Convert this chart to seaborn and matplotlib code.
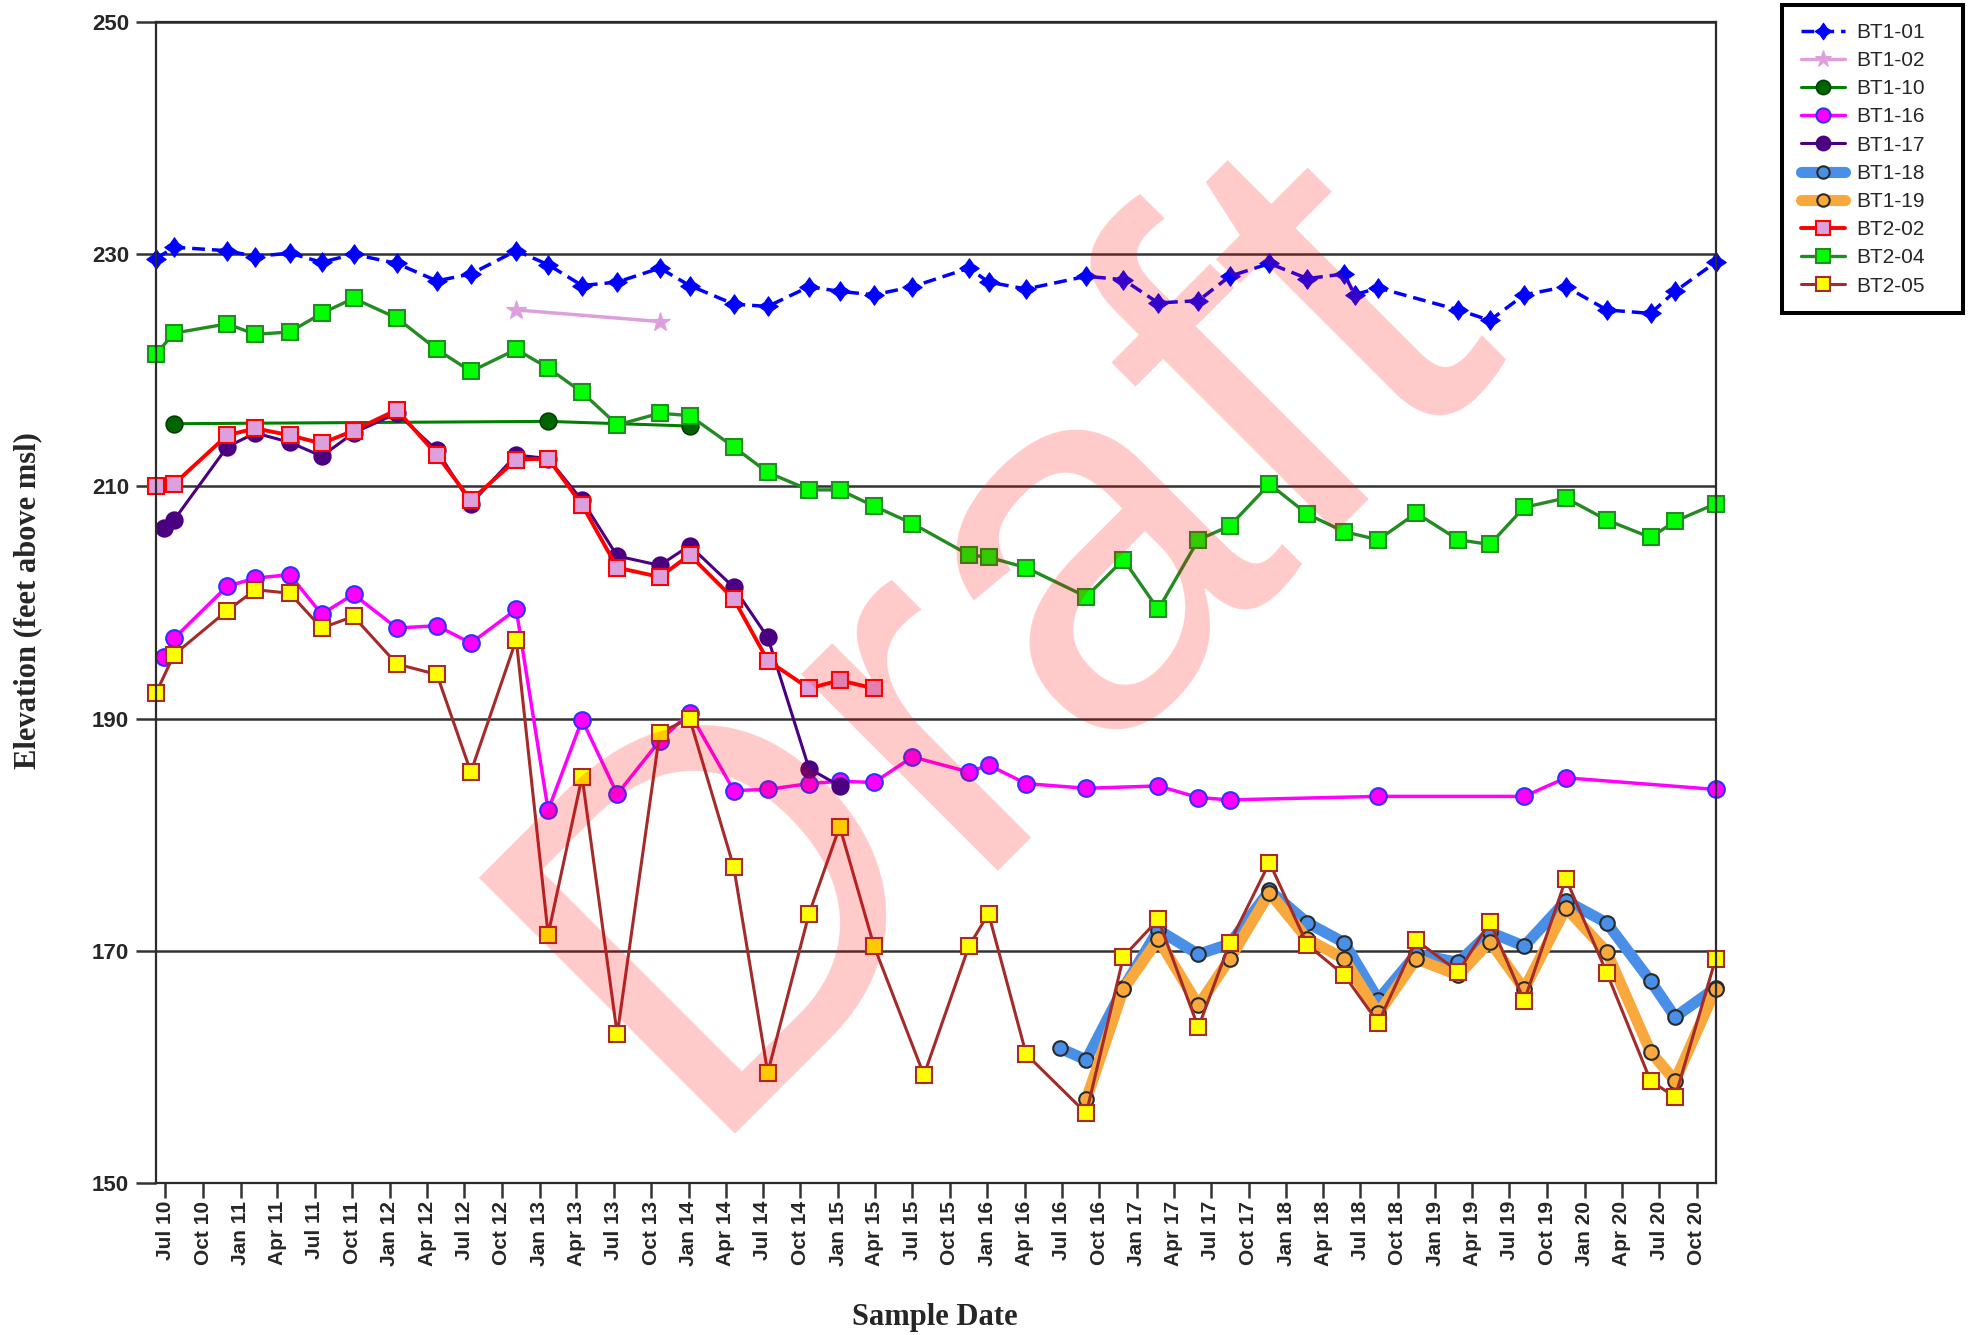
import matplotlib
matplotlib.use("Agg")
import matplotlib.pyplot as plt
import matplotlib.dates as mdates
from matplotlib import font_manager
from matplotlib.font_manager import FontProperties
from matplotlib.patches import Rectangle
from matplotlib.path import Path
import pandas as pd
import seaborn as sns

# ---------------------------------------------------------------------------
# Groundwater elevations (feet above msl) by well and sample date
# ---------------------------------------------------------------------------
bt1_01_dates = ["2010-06-08", "2010-07-22", "2010-11-29", "2011-02-06", "2011-05-01",
                "2011-07-18", "2011-10-04", "2012-01-18", "2012-04-25", "2012-07-17",
                "2012-11-05", "2013-01-22", "2013-04-15", "2013-07-10", "2013-10-22",
                "2014-01-03", "2014-04-21", "2014-07-13", "2014-10-22", "2015-01-05",
                "2015-03-30", "2015-07-02", "2015-11-17", "2016-01-04", "2016-04-05",
                "2016-08-30", "2016-11-29", "2017-02-22", "2017-05-31", "2017-08-16",
                "2017-11-21", "2018-02-22", "2018-05-23", "2018-06-17", "2018-08-14",
                "2019-02-26", "2019-05-14", "2019-08-06", "2019-11-16", "2020-02-24",
                "2020-06-10", "2020-08-09", "2020-11-16"]
bt1_01_elev = [229.6, 230.6, 230.3, 229.8, 230.1, 229.3, 230.0, 229.2, 227.7, 228.3,
               230.3, 229.1, 227.3, 227.6, 228.8, 227.3, 225.7, 225.5, 227.2, 226.8,
               226.5, 227.2, 228.8, 227.6, 227.0, 228.1, 227.8, 225.8, 226.0, 228.1,
               229.2, 227.9, 228.3, 226.5, 227.1, 225.2, 224.3, 226.5, 227.2, 225.2,
               224.9, 226.8, 229.3]

bt1_02_dates = ["2012-11-05", "2013-10-22"]
bt1_02_elev = [225.2, 224.2]

bt1_10_dates = ["2010-07-22", "2013-01-22", "2014-01-03"]
bt1_10_elev = [215.4, 215.6, 215.2]

bt1_16_dates = ["2010-06-28", "2010-07-22", "2010-11-29", "2011-02-06", "2011-05-01",
                "2011-07-18", "2011-10-04", "2012-01-18", "2012-04-25", "2012-07-17",
                "2012-11-05", "2013-01-22", "2013-04-15", "2013-07-10", "2013-10-22",
                "2014-01-03", "2014-04-21", "2014-07-13", "2014-10-22", "2015-01-05",
                "2015-03-30", "2015-07-02", "2015-11-17", "2016-01-04", "2016-04-05",
                "2016-08-30", "2017-02-22", "2017-05-31", "2017-08-16", "2018-08-14",
                "2019-08-06", "2019-11-16", "2020-11-16"]
bt1_16_elev = [195.3, 196.9, 201.4, 202.1, 202.4, 199.0, 200.7, 197.8, 198.0, 196.5,
               199.4, 182.1, 189.9, 183.5, 188.1, 190.5, 183.8, 183.9, 184.4, 184.6,
               184.5, 186.7, 185.4, 186.0, 184.4, 184.0, 184.2, 183.2, 183.0, 183.3,
               183.3, 184.9, 183.9]

bt1_17_dates = ["2010-06-28", "2010-07-22", "2010-11-29", "2011-02-06", "2011-05-01",
                "2011-07-18", "2011-10-04", "2012-01-18", "2012-04-25", "2012-07-17",
                "2012-11-05", "2013-01-22", "2013-04-15", "2013-07-10", "2013-10-22",
                "2014-01-03", "2014-04-21", "2014-07-13", "2014-10-22", "2015-01-05"]
bt1_17_elev = [206.4, 207.1, 213.4, 214.6, 213.8, 212.6, 214.6, 216.3, 213.1, 208.5,
               212.7, 212.4, 208.8, 204.0, 203.2, 204.9, 201.3, 197.0, 185.7, 184.2]

bt1_18_dates = ["2016-06-27", "2016-08-30", "2016-11-29", "2017-02-22", "2017-05-31",
                "2017-08-16", "2017-11-21", "2018-02-22", "2018-05-23", "2018-08-14",
                "2018-11-15", "2019-02-26", "2019-05-14", "2019-08-06", "2019-11-16",
                "2020-02-24", "2020-06-10", "2020-08-09", "2020-11-16"]
bt1_18_elev = [161.6, 160.6, 166.8, 171.8, 169.7, 170.6, 175.2, 172.4, 170.7, 165.8,
               169.7, 169.0, 171.6, 170.4, 174.3, 172.4, 167.4, 164.3, 166.8]

bt1_19_dates = ["2016-08-30", "2016-11-29", "2017-02-22", "2017-05-31", "2017-08-16",
                "2017-11-21", "2018-02-22", "2018-05-23", "2018-08-14", "2018-11-15",
                "2019-02-26", "2019-05-14", "2019-08-06", "2019-11-16", "2020-02-24",
                "2020-06-10", "2020-08-09", "2020-11-16"]
bt1_19_elev = [157.2, 166.7, 171.0, 165.3, 169.3, 175.0, 171.0, 169.3, 164.6, 169.3,
               167.9, 170.8, 166.7, 173.7, 169.9, 161.3, 158.8, 166.7]

bt2_02_dates = ["2010-06-08", "2010-07-22", "2010-11-29", "2011-02-06", "2011-05-01",
                "2011-07-18", "2011-10-04", "2012-01-18", "2012-04-25", "2012-07-17",
                "2012-11-05", "2013-01-22", "2013-04-15", "2013-07-10", "2013-10-22",
                "2014-01-03", "2014-04-21", "2014-07-13", "2014-10-22", "2015-01-05",
                "2015-03-30"]
bt2_02_elev = [210.0, 210.2, 214.4, 215.0, 214.4, 213.7, 214.8, 216.6, 212.7, 208.8,
               212.3, 212.4, 208.4, 203.0, 202.2, 204.1, 200.3, 195.0, 192.6, 193.3,
               192.6]

bt2_04_dates = ["2010-06-08", "2010-07-22", "2010-11-29", "2011-02-06", "2011-05-01",
                "2011-07-18", "2011-10-04", "2012-01-18", "2012-04-25", "2012-07-17",
                "2012-11-05", "2013-01-22", "2013-04-15", "2013-07-10", "2013-10-22",
                "2014-01-03", "2014-04-21", "2014-07-13", "2014-10-22", "2015-01-05",
                "2015-03-30", "2015-07-02", "2015-11-17", "2016-01-04", "2016-04-05",
                "2016-08-30", "2016-11-29", "2017-02-22", "2017-05-31", "2017-08-16",
                "2017-11-21", "2018-02-22", "2018-05-23", "2018-08-14", "2018-11-15",
                "2019-02-26", "2019-05-14", "2019-08-06", "2019-11-16", "2020-02-24",
                "2020-06-10", "2020-08-09", "2020-11-16"]
bt2_04_elev = [221.4, 223.2, 224.0, 223.1, 223.3, 224.9, 226.2, 224.5, 221.8, 219.9,
               221.8, 220.2, 218.1, 215.3, 216.3, 216.1, 213.4, 211.2, 209.7, 209.7,
               208.3, 206.8, 204.1, 203.9, 203.0, 200.5, 203.7, 199.4, 205.4, 206.6,
               210.2, 207.6, 206.1, 205.4, 207.7, 205.4, 205.0, 208.2, 209.0, 207.1,
               205.6, 207.0, 208.5]

bt2_05_dates = ["2010-06-08", "2010-07-22", "2010-11-29", "2011-02-06", "2011-05-01",
                "2011-07-18", "2011-10-04", "2012-01-18", "2012-04-25", "2012-07-17",
                "2012-11-05", "2013-01-22", "2013-04-15", "2013-07-10", "2013-10-22",
                "2014-01-03", "2014-04-21", "2014-07-13", "2014-10-22", "2015-01-05",
                "2015-03-30", "2015-07-30", "2015-11-17", "2016-01-04", "2016-04-05",
                "2016-08-30", "2016-11-29", "2017-02-22", "2017-05-31", "2017-08-16",
                "2017-11-21", "2018-02-22", "2018-05-23", "2018-08-14", "2018-11-15",
                "2019-02-26", "2019-05-14", "2019-08-06", "2019-11-16", "2020-02-24",
                "2020-06-10", "2020-08-09", "2020-11-16"]
bt2_05_elev = [192.2, 195.5, 199.3, 201.1, 200.8, 197.8, 198.8, 194.7, 193.8, 185.4,
               196.8, 171.4, 185.0, 162.8, 188.8, 190.0, 177.2, 159.5, 173.2, 180.7,
               170.4, 159.3, 170.4, 173.2, 161.1, 156.0, 169.5, 172.7, 163.4, 170.7,
               177.6, 170.5, 167.9, 163.8, 170.9, 168.2, 172.5, 165.7, 176.2, 168.1,
               158.8, 157.4, 169.3]

y_ticks = [150, 170, 190, 210, 230, 250]
x_range = ["2010-06-08", "2020-11-17"]


# ---------------------------------------------------------------------------
# Fonts
# ---------------------------------------------------------------------------
def font_available(name):
    try:
        font_manager.findfont(FontProperties(family=name), fallback_to_default=False)
        return True
    except ValueError:
        return False


SANS = "Liberation Sans" if font_available("Liberation Sans") else "DejaVu Sans"
NARROW = "Liberation Sans Narrow" if font_available("Liberation Sans Narrow") else SANS
SERIF = "Liberation Serif" if font_available("Liberation Serif") else "DejaVu Serif"

sns.set_style("white")
plt.rcParams["font.family"] = [SANS, "DejaVu Sans"]

W, H = 1973, 1335
fig = plt.figure(figsize=(W / 100, H / 100), dpi=100)
ax = fig.add_axes([156 / W, 1 - 1183 / H, (1716 - 156) / W, (1183 - 22) / H])

star4 = Path.unit_regular_star(4, 0.58)

series = [
    dict(name="BT1-01", dates=bt1_01_dates, elev=bt1_01_elev, color="#0000FF", lw=2.5,
         ls=(0, (3.7, 2.0)), marker=star4, ms=14, mfc="#0000FF", mec="#0000FF", mew=0.8),
    dict(name="BT1-02", dates=bt1_02_dates, elev=bt1_02_elev, color="#DDA0DD", lw=2.5,
         ls="-", marker="*", ms=15, mfc="#DDA0DD", mec="#DDA0DD", mew=0.8),
    dict(name="BT1-10", dates=bt1_10_dates, elev=bt1_10_elev, color="#008000", lw=2.2,
         ls="-", marker="o", ms=12, mfc="#006400", mec="#004000", mew=1.2),
    dict(name="BT1-16", dates=bt1_16_dates, elev=bt1_16_elev, color="#FF00FF", lw=2.5,
         ls="-", marker="o", ms=12, mfc="#FF00FF", mec="#3030FF", mew=1.5),
    dict(name="BT1-17", dates=bt1_17_dates, elev=bt1_17_elev, color="#4B0082", lw=2.2,
         ls="-", marker="o", ms=12, mfc="#4B0082", mec="#4B0082", mew=1.2),
    dict(name="BT1-18", dates=bt1_18_dates, elev=bt1_18_elev, color="#4A8FE7", lw=8,
         ls="-", marker="o", ms=10.5, mfc="#4A8FE7", mec="#2a2a2a", mew=1.5),
    dict(name="BT1-19", dates=bt1_19_dates, elev=bt1_19_elev, color="#F8A83C", lw=8,
         ls="-", marker="o", ms=10.5, mfc="#F8A83C", mec="#2a2a2a", mew=1.5),
    dict(name="BT2-02", dates=bt2_02_dates, elev=bt2_02_elev, color="#FF0000", lw=2.8,
         ls="-", marker="s", ms=11.5, mfc="#DDA0DD", mec="#FF0000", mew=1.5),
    dict(name="BT2-04", dates=bt2_04_dates, elev=bt2_04_elev, color="#228B22", lw=2.4,
         ls="-", marker="s", ms=11.5, mfc="#00FF00", mec="#228B22", mew=1.5),
    dict(name="BT2-05", dates=bt2_05_dates, elev=bt2_05_elev, color="#A52A2A", lw=2.2,
         ls="-", marker="s", ms=11.5, mfc="#FFFF00", mec="#A52A2A", mew=1.5),
]

for s in series:
    df = pd.DataFrame({"date": pd.to_datetime(s["dates"]), "elevation": s["elev"]})
    sns.lineplot(data=df, x="date", y="elevation", ax=ax, sort=False, estimator=None,
                 errorbar=None, color=s["color"], linewidth=s["lw"], linestyle=s["ls"],
                 marker=s["marker"], markersize=s["ms"], markerfacecolor=s["mfc"],
                 markeredgecolor=s["mec"], markeredgewidth=s["mew"], label=s["name"],
                 clip_on=False)

# ---------------------------------------------------------------------------
# Axes styling
# ---------------------------------------------------------------------------
ax.set_xlim(pd.Timestamp(x_range[0]), pd.Timestamp(x_range[1]))
ax.set_ylim(y_ticks[0], y_ticks[-1])
ax.set_yticks(y_ticks)
ax.xaxis.set_major_locator(mdates.MonthLocator(bymonth=(1, 4, 7, 10)))
ax.xaxis.set_major_formatter(mdates.DateFormatter("%b %y"))

ax.set_axisbelow(True)
ax.yaxis.grid(True, color="#333333", linewidth=1.8)
ax.xaxis.grid(False)
for sp in ax.spines.values():
    sp.set_visible(True)
    sp.set_color("#2b2b2b")
    sp.set_linewidth(1.6)

ax.tick_params(axis="y", direction="out", length=14.4, width=1.8, color="#333333",
               pad=5, left=True, labelsize=16)
ax.tick_params(axis="x", direction="out", length=10.8, width=1.8, color="#333333",
               pad=2, bottom=True, labelsize=15, labelrotation=90)
for lab in ax.get_yticklabels():
    lab.set_fontfamily(NARROW)
    lab.set_fontweight("bold")
for lab in ax.get_xticklabels():
    lab.set_fontfamily(SANS)
    lab.set_fontweight("bold")

ax.set_xlabel("Sample Date", fontfamily=SERIF, fontweight="bold", fontsize=22)
ax.set_ylabel("Elevation (feet above msl)", fontfamily=SERIF, fontweight="bold", fontsize=22)
ax.xaxis.label.set_va("center")
ax.yaxis.label.set_va("center")
ax.xaxis.set_label_coords(935 / W, 1 - 1318 / H, transform=fig.transFigure)
ax.yaxis.set_label_coords(28 / W, 1 - 601 / H, transform=fig.transFigure)

# ---------------------------------------------------------------------------
# Legend with a heavy black frame
# ---------------------------------------------------------------------------
handles, labels = ax.get_legend_handles_labels()
leg = ax.legend(handles, labels, loc="upper left", bbox_to_anchor=(1801 / W, 1 - 23 / H),
                bbox_transform=fig.transFigure, frameon=False, borderpad=0,
                borderaxespad=0, handlelength=2.1, handletextpad=0.55, labelspacing=0.44,
                prop=FontProperties(family=SANS, size=15), markerscale=0.85)
fig.add_artist(Rectangle((1782 / W, 1 - 313 / H), 181 / W, 308 / H,
                         transform=fig.transFigure, fill=False, edgecolor="black",
                         linewidth=2.9, zorder=5))

# Translucent "Draft" stamp across the plot
fig.text(1096 / W, 1 - 730 / H, "Draft", fontsize=379, fontfamily=SANS, color="red",
         alpha=0.21, rotation=45, rotation_mode="anchor", ha="center", va="baseline",
         zorder=10)

fig.savefig("out.png", dpi=100)
